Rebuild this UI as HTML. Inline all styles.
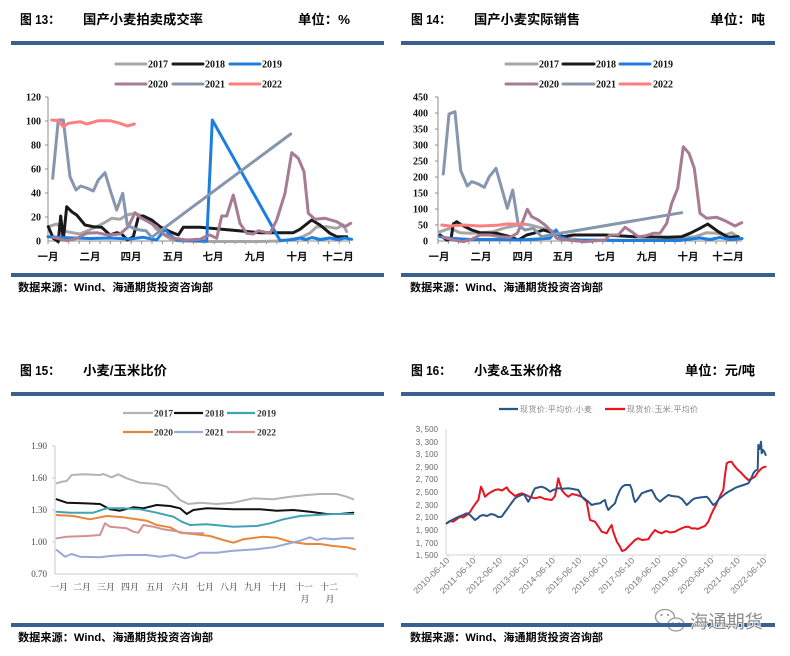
<!DOCTYPE html>
<html><head><meta charset="utf-8"><style>
html,body{margin:0;padding:0;background:#fff;}
svg{display:block;}
.t{font-family:"Liberation Sans","Noto Sans CJK SC",sans-serif;font-weight:bold;fill:#000;}
.lg{font-family:"Liberation Serif",serif;font-weight:bold;font-size:10px;fill:#111;}
.yl{font-family:"Liberation Serif",serif;font-weight:bold;font-size:10px;fill:#111;}
.xl{font-family:"Liberation Sans","Noto Sans CJK SC",sans-serif;font-weight:bold;font-size:10.5px;fill:#111;}
.s3{font-family:"Liberation Serif","Noto Serif CJK SC",serif;font-size:9px;fill:#333;}
.s4{font-family:"Liberation Sans","Noto Sans CJK SC",sans-serif;font-size:8px;fill:#666;}
polyline{fill:none;stroke-linejoin:round;stroke-linecap:round;}
</style></head><body>
<svg width="790" height="656" viewBox="0 0 790 656" xmlns="http://www.w3.org/2000/svg">
<rect width="790" height="656" fill="#fff"/>

<!-- ================= CHART 13 ================= -->
<text class="t" x="20" y="24" font-size="13" textLength="40" lengthAdjust="spacingAndGlyphs">图 13：</text>
<text class="t" x="83" y="24" font-size="13" textLength="120" lengthAdjust="spacingAndGlyphs">国产小麦拍卖成交率</text>
<text class="t" x="298" y="24" font-size="13" textLength="52" lengthAdjust="spacingAndGlyphs">单位：%</text>
<rect x="11" y="41" width="373" height="4" fill="#3a6090"/>
<g stroke-width="3" stroke-linecap="round">
<line x1="116" y1="64" x2="146" y2="64" stroke="#a6a6a6"/>
<line x1="173" y1="64" x2="203" y2="64" stroke="#1a1a1a"/>
<line x1="230" y1="64" x2="260" y2="64" stroke="#1e7ee0"/>
<line x1="116" y1="84" x2="146" y2="84" stroke="#a67b93"/>
<line x1="173" y1="84" x2="203" y2="84" stroke="#8596ad"/>
<line x1="230" y1="84" x2="260" y2="84" stroke="#ff7f80"/>
</g>
<text class="lg" x="148" y="67.5">2017</text>
<text class="lg" x="205" y="67.5">2018</text>
<text class="lg" x="262" y="67.5">2019</text>
<text class="lg" x="148" y="87.5">2020</text>
<text class="lg" x="205" y="87.5">2021</text>
<text class="lg" x="262" y="87.5">2022</text>
<g class="yl" text-anchor="end">
<text x="41" y="100.5">120</text><text x="41" y="124.5">100</text><text x="41" y="148.5">80</text>
<text x="41" y="172.5">60</text><text x="41" y="196.5">40</text><text x="41" y="220.5">20</text><text x="41" y="244.5">0</text>
</g>
<g stroke="#8c8c8c" stroke-width="1">
<line x1="48" y1="97" x2="48" y2="241"/>
<line x1="48" y1="241" x2="350" y2="241"/>
<line x1="45" y1="97" x2="48" y2="97"/><line x1="45" y1="121" x2="48" y2="121"/><line x1="45" y1="145" x2="48" y2="145"/>
<line x1="45" y1="169" x2="48" y2="169"/><line x1="45" y1="193" x2="48" y2="193"/><line x1="45" y1="217" x2="48" y2="217"/>
<path d="M48 241v3M58.4 241v3M68.8 241v3M79.2 241v3M89.6 241v3M100 241v3M110.4 241v3M120.8 241v3M131.2 241v3M141.6 241v3M152 241v3M162.4 241v3M172.8 241v3M183.2 241v3M193.6 241v3M204 241v3M214.4 241v3M224.8 241v3M235.2 241v3M245.6 241v3M256 241v3M266.4 241v3M276.8 241v3M287.2 241v3M297.6 241v3M308 241v3M318.4 241v3M328.8 241v3M339.2 241v3M349.6 241v3"/>
</g>
<g class="xl" text-anchor="middle">
<text x="48" y="260">一月</text><text x="90" y="260">二月</text><text x="131" y="260">四月</text><text x="173" y="260">五月</text>
<text x="213" y="260">七月</text><text x="255" y="260">九月</text><text x="297" y="260">十月</text><text x="338" y="260">十二月</text>
</g>
<g stroke-width="3">
<polyline stroke="#a6a6a6" points="48.3,226.7 56.7,224 66.7,231.7 80,234 93.3,228.3 103.3,223.3 111.7,218.3 120,219.3 126.7,215 135,213.3 143,216 150,220 155,228 160,232 166,236 172,240 180,241 200,241.5 260,241.5 280,241 300,238 310,233 316.7,226.7 326.7,226.7 336.7,228.3 343.3,225 346.7,231.7"/>
<polyline stroke="#1a1a1a" points="48.3,226.7 53.3,238.3 58.3,241.7 60.7,216 63.3,240 66.7,206.7 71.7,211.7 76.7,215 85,225 93.3,226.7 101.7,227.3 110,235 116.7,232.7 121.7,234 127.3,240 133.3,236.7 138.3,217.3 143.3,216 151.7,220 160,226.7 170,231.7 178.3,235 183.3,227.3 200,227.3 260,232.7 293.3,232.7 300,229.3 311.7,220 320,225 330,233.3 336.7,236.7 346.7,236.7"/>
<polyline stroke="#1e7ee0" points="48,236.7 66.7,237.7 90,238.5 110,238 130,239 143.3,237.3 156.7,240 165,229.3 170,235 176.7,240 206.7,241 212.3,120 280,240.5 290,240 300,238 306,239.5 312,237.5 320,239.5 330,238 338,239.5 345,238 351.7,239.3"/>
<polyline stroke="#a67b93" points="53.3,237.3 66.7,240.7 76.7,238.3 86.7,233.3 96.7,232.7 108.3,235 120,234 128.3,226.7 135,212.7 140,217.3 148.3,221.7 156.7,226.7 163.3,234 173.3,238.3 186.7,240 200,239.3 206.7,236 210,235 216.7,238.3 221.7,216 226.7,216 233.3,195 240,223.3 246.7,233.3 253.3,234 258.3,230.7 270,233.3 276.7,220 285,193.3 291.7,152.7 298.3,158.3 304,171.7 308.3,213.3 315,219.3 325,218.3 336.7,221.7 345,226.7 350.7,223.3"/>
<polyline stroke="#8596ad" points="52.7,178.3 58.3,120 63.3,120 70,176.7 76,190 80.7,186 86.7,188 93.3,191 98.3,180 105,172.7 110.7,191.7 116.7,210 122.7,193.3 127.3,225 133.3,228.3 140,230 146,230.7 151.7,237.3 290.7,134"/>
<polyline stroke="#ff7f80" points="51.7,120 58.3,120.7 63.3,126.7 68.3,123.3 80,121.7 86.7,124 98.3,120.7 110,120.7 120,123.3 127.3,126 134.3,124"/>
</g>
<rect x="11" y="273" width="373" height="4" fill="#3a6090"/>
<text class="t" x="18" y="291" font-size="11" textLength="195" lengthAdjust="spacingAndGlyphs">数据来源：Wind、海通期货投资咨询部</text>

<!-- ================= CHART 14 ================= -->
<text class="t" x="411" y="24" font-size="13" textLength="40" lengthAdjust="spacingAndGlyphs">图 14：</text>
<text class="t" x="474" y="24" font-size="13" textLength="106" lengthAdjust="spacingAndGlyphs">国产小麦实际销售</text>
<text class="t" x="710" y="24" font-size="13" textLength="55" lengthAdjust="spacingAndGlyphs">单位：吨</text>
<rect x="401" y="41" width="374" height="4" fill="#3a6090"/>
<g stroke-width="3" stroke-linecap="round">
<line x1="506" y1="64" x2="537" y2="64" stroke="#a6a6a6"/>
<line x1="563" y1="64" x2="594" y2="64" stroke="#1a1a1a"/>
<line x1="620" y1="64" x2="650" y2="64" stroke="#1e7ee0"/>
<line x1="506" y1="84" x2="537" y2="84" stroke="#a67b93"/>
<line x1="563" y1="84" x2="594" y2="84" stroke="#8596ad"/>
<line x1="620" y1="84" x2="650" y2="84" stroke="#ff7f80"/>
</g>
<text class="lg" x="539" y="67.5">2017</text>
<text class="lg" x="596" y="67.5">2018</text>
<text class="lg" x="653" y="67.5">2019</text>
<text class="lg" x="539" y="87.5">2020</text>
<text class="lg" x="596" y="87.5">2021</text>
<text class="lg" x="653" y="87.5">2022</text>
<g class="yl" text-anchor="end">
<text x="428" y="100.5">450</text><text x="428" y="116.5">400</text><text x="428" y="132.5">350</text><text x="428" y="148.5">300</text>
<text x="428" y="164.5">250</text><text x="428" y="180.5">200</text><text x="428" y="196.5">150</text><text x="428" y="212.5">100</text>
<text x="428" y="228.5">50</text><text x="428" y="244.5">0</text>
</g>
<g stroke="#8c8c8c" stroke-width="1">
<line x1="438" y1="97" x2="438" y2="241"/>
<line x1="438" y1="241" x2="742" y2="241"/>
<path d="M435 97h3M435 113h3M435 129h3M435 145h3M435 161h3M435 177h3M435 193h3M435 209h3M435 225h3"/>
<path d="M438 241v3M448.3 241v3M458.6 241v3M468.9 241v3M479.2 241v3M489.5 241v3M499.8 241v3M510.1 241v3M520.4 241v3M530.7 241v3M541 241v3M551.3 241v3M561.6 241v3M571.9 241v3M582.2 241v3M592.5 241v3M602.8 241v3M613.1 241v3M623.4 241v3M633.7 241v3M644 241v3M654.3 241v3M664.6 241v3M674.9 241v3M685.2 241v3M695.5 241v3M705.8 241v3M716.1 241v3M726.4 241v3M736.7 241v3"/>
</g>
<g class="xl" text-anchor="middle">
<text x="439" y="260">一月</text><text x="481" y="260">二月</text><text x="523" y="260">四月</text><text x="563" y="260">五月</text>
<text x="605" y="260">七月</text><text x="647" y="260">九月</text><text x="688" y="260">十月</text><text x="728" y="260">十二月</text>
</g>
<g stroke-width="3">
<polyline stroke="#a6a6a6" points="440,231.7 450,228.3 460,232.7 470,233.3 480,232.7 493.3,231.7 503.3,228.3 513.3,226 523.3,224 530,225 536.7,226.7 546.7,229.3 555,231.7 565,238 580,240 660,240.5 681.7,238.3 695,236.7 706.7,232.7 716.7,233.3 725,235 731.7,232.7 736.7,236"/>
<polyline stroke="#1a1a1a" points="440,235 446.7,240 451,239 453.3,224 456.7,221.7 461.7,225 471.7,230 480,232.7 496.7,233.3 510,236.7 518.3,240 526.7,235 533.3,233.3 543.3,230 553.3,232.7 563.3,236.7 573.3,235 590,235 605,235 635,236.7 668.3,237.3 681.7,236.7 690,233.3 700,228.3 707.7,224 718.3,231.7 728.3,237.3 738.3,236.7"/>
<polyline stroke="#1e7ee0" points="440,236.7 450,238.3 470,239.5 500,239.5 520,240 550,238.3 556,230 560,236.7 570,240 620,240.5 680,240.5 690,239 700,238 710,239.5 720,237.5 730,239.5 742,238.5"/>
<polyline stroke="#a67b93" points="443.3,237.3 453.3,240 463.3,241.7 471.7,239.3 480,235 490,235 500,236.7 510,237.3 517.3,233.3 523.3,220 527.3,209.3 531.7,216.7 538.3,220 545,225 551.7,231.7 556.7,238.3 566.7,240 585,241.7 605,240 610,235 618.3,235 625,227.3 631.7,231.7 638.3,236.7 645,236 653.3,233.3 660,233.3 666.7,223.3 671.7,203.3 677.7,188.3 683.3,146.7 689,153.3 694.3,168.3 700,213.3 706.7,218.3 716.7,217.3 725,220.7 735,226 741.7,222.7"/>
<polyline stroke="#8596ad" points="443.3,174 449,114 455,111.7 460.7,170.7 467.3,186 471.7,181.7 478.3,184 484.3,187.3 489.3,176.7 496,168.3 501.7,188.3 507.3,208.3 512.7,190 518.3,225 525,230 533.3,228.3 541.7,236.7 550,235 681.7,212.7"/>
<polyline stroke="#ff7f80" points="441.7,225 450,226 463.3,225 480,226 496.7,225.3 506.7,224 525,224.3"/>
</g>
<rect x="401" y="273" width="374" height="4" fill="#3a6090"/>
<text class="t" x="410" y="291" font-size="11" textLength="193" lengthAdjust="spacingAndGlyphs">数据来源：Wind、海通期货投资咨询部</text>

<!-- ================= CHART 15 ================= -->
<text class="t" x="20" y="375" font-size="13" textLength="40" lengthAdjust="spacingAndGlyphs">图 15：</text>
<text class="t" x="83" y="375" font-size="13" textLength="84" lengthAdjust="spacingAndGlyphs">小麦/玉米比价</text>
<rect x="11" y="392" width="373" height="4" fill="#3a6090"/>
<g stroke-width="2.2">
<line x1="123" y1="413" x2="153" y2="413" stroke="#b3b3b3"/>
<line x1="174" y1="413" x2="203" y2="413" stroke="#111"/>
<line x1="227" y1="413" x2="255" y2="413" stroke="#3ea3b5"/>
<line x1="123" y1="432" x2="153" y2="432" stroke="#e8873a"/>
<line x1="174" y1="432" x2="203" y2="432" stroke="#99a8d8"/>
<line x1="227" y1="432" x2="255" y2="432" stroke="#d49090"/>
</g>
<g class="lg" style="font-size:9.5px;fill:#333">
<text x="154" y="416.5">2017</text><text x="205" y="416.5">2018</text><text x="257" y="416.5">2019</text>
<text x="154" y="435.5">2020</text><text x="205" y="435.5">2021</text><text x="257" y="435.5">2022</text>
</g>
<g class="s3" text-anchor="end" style="font-size:9px;fill:#444">
<text x="47" y="449">1.90</text><text x="47" y="481">1.60</text><text x="47" y="513">1.30</text><text x="47" y="545">1.00</text><text x="47" y="577">0.70</text>
</g>
<g stroke="#c8c8c8" stroke-width="1">
<line x1="55" y1="446" x2="55" y2="574"/>
<line x1="55" y1="574" x2="357" y2="574"/>
<path d="M52 446h3M52 478h3M52 510h3M52 542h3M357 574v3"/>
</g>
<g class="s3" text-anchor="middle" style="font-size:9px;fill:#333">
<text x="59" y="590">一月</text><text x="82" y="590">二月</text><text x="106" y="590">三月</text><text x="130" y="590">四月</text>
<text x="155" y="590">五月</text><text x="180" y="590">六月</text><text x="205" y="590">七月</text><text x="229" y="590">八月</text>
<text x="253" y="590">九月</text><text x="278" y="590">十月</text><text x="304" y="590">十一</text><text x="329" y="590">十二</text>
<text x="305" y="602">月</text><text x="330" y="602">月</text>
</g>
<g stroke-width="2">
<polyline stroke="#b3b3b3" points="56.7,483.3 61.7,481.7 66.7,481 71.7,475 83.3,474.3 100,475 103.3,474 111.7,477.3 118.3,474.3 126.7,478.3 140,482.7 156.7,484 166.7,486.7 173.3,493.3 180,500 188.3,504 200,502.7 216.7,504 233.3,502.7 253.3,498.3 273.3,499.3 290,496.7 306.7,495 320,494 336.7,494 346.7,496.7 353.3,499.3"/>
<polyline stroke="#111" points="56.7,499.3 66.7,502.7 83.3,503.3 100,504 110,509.3 120,510.7 133.3,507.3 143.3,508.3 156.7,505 170,506 180,508.3 186.7,514 193.3,510 206.7,508.3 233.3,509.3 260,509.3 276.7,510.7 293.3,510 310,511.7 326.7,514 340,514 353.3,512.7"/>
<polyline stroke="#3ea3b5" points="56.7,511.7 70,512.7 93.3,512.7 106.7,508.3 123.3,508.3 140,509.3 156.7,512.7 173.3,516.7 181.7,521.7 190,525 206.7,524.3 233.3,526.7 256.7,526 270,523.3 283.3,519.3 300,516 316.7,515 333.3,514 353.3,514"/>
<polyline stroke="#e8873a" points="56.7,515 73.3,516 90,519.3 106.7,516 123.3,517.3 136.7,519.3 146.7,520.7 156.7,525 170,527.3 180,532.7 193.3,534 210,536 223.3,540 233.3,542.7 243.3,539.3 263.3,536.7 276.7,537.7 290,541.7 306.7,544 320,544 333.3,546 346.7,547.3 355,549.3"/>
<polyline stroke="#99a8d8" points="56.7,550 65,556.7 71.7,554 80,556.7 100,557.3 110,556 126.7,555 146.7,555 160,556.7 173.3,555 185,558.3 193.3,556 200,552.7 216.7,552.7 233.3,550.7 256.7,549.3 273.3,547.3 286.7,544 300,540.7 310,537.3 316.7,540 323.3,538.3 333.3,539.3 343.3,538.3 353.3,538.3"/>
<polyline stroke="#d49090" points="56.7,538.3 66.7,536.7 86.7,536 100,535 105,523.3 110,526.7 126.7,528.3 133.3,531.7 138.3,532.7 143.3,525 153.3,526.7 163.3,529.3 173.3,530.7 183.3,532.7 193.3,533.3 203.3,533.3"/>
</g>
<rect x="11" y="623" width="373" height="4" fill="#3a6090"/>
<text class="t" x="18" y="641" font-size="11" textLength="195" lengthAdjust="spacingAndGlyphs">数据来源：Wind、海通期货投资咨询部</text>

<!-- ================= CHART 16 ================= -->
<text class="t" x="411" y="375" font-size="13" textLength="40" lengthAdjust="spacingAndGlyphs">图 16：</text>
<text class="t" x="474" y="375" font-size="13" textLength="88" lengthAdjust="spacingAndGlyphs">小麦&amp;玉米价格</text>
<text class="t" x="685" y="375" font-size="13" textLength="70" lengthAdjust="spacingAndGlyphs">单位：元/吨</text>
<rect x="401" y="392" width="374" height="4" fill="#3a6090"/>
<line x1="499" y1="409" x2="518" y2="409" stroke="#2a5686" stroke-width="2.2"/>
<line x1="605" y1="409" x2="625" y2="409" stroke="#e8141e" stroke-width="2.2"/>
<text class="s4" x="520" y="412" textLength="72" lengthAdjust="spacing" style="fill:#888">现货价:平均价:小麦</text>
<text class="s4" x="627" y="412" textLength="71" lengthAdjust="spacing" style="fill:#888">现货价:玉米:平均价</text>
<g class="s4" text-anchor="end">
<text x="438" y="432">3, 500</text><text x="438" y="445">3, 300</text><text x="438" y="457">3, 100</text><text x="438" y="470">2, 900</text>
<text x="438" y="482">2, 700</text><text x="438" y="495">2, 500</text><text x="438" y="508">2, 300</text><text x="438" y="520">2, 100</text>
<text x="438" y="533">1, 900</text><text x="438" y="546">1, 700</text><text x="438" y="558">1, 500</text>
</g>
<g stroke="#d4d4d4" stroke-width="1">
<line x1="446" y1="429" x2="446" y2="555"/>
<line x1="446" y1="555" x2="766" y2="555"/>
<path d="M448 555v3M474.4 555v3M500.8 555v3M527.3 555v3M553.7 555v3M580.1 555v3M606.5 555v3M633 555v3M659.4 555v3M685.8 555v3M712.2 555v3M738.6 555v3M765 555v3"/>
</g>
<g class="s4" text-anchor="end" style="font-size:8.5px;fill:#777">
<text transform="translate(450,561) rotate(-45)" textLength="47" lengthAdjust="spacingAndGlyphs">2010-06-10</text>
<text transform="translate(476.4,561) rotate(-45)" textLength="47" lengthAdjust="spacingAndGlyphs">2011-06-10</text>
<text transform="translate(502.8,561) rotate(-45)" textLength="47" lengthAdjust="spacingAndGlyphs">2012-06-10</text>
<text transform="translate(529.3,561) rotate(-45)" textLength="47" lengthAdjust="spacingAndGlyphs">2013-06-10</text>
<text transform="translate(555.7,561) rotate(-45)" textLength="47" lengthAdjust="spacingAndGlyphs">2014-06-10</text>
<text transform="translate(582.1,561) rotate(-45)" textLength="47" lengthAdjust="spacingAndGlyphs">2015-06-10</text>
<text transform="translate(608.5,561) rotate(-45)" textLength="47" lengthAdjust="spacingAndGlyphs">2016-06-10</text>
<text transform="translate(635,561) rotate(-45)" textLength="47" lengthAdjust="spacingAndGlyphs">2017-06-10</text>
<text transform="translate(661.4,561) rotate(-45)" textLength="47" lengthAdjust="spacingAndGlyphs">2018-06-10</text>
<text transform="translate(687.8,561) rotate(-45)" textLength="47" lengthAdjust="spacingAndGlyphs">2019-06-10</text>
<text transform="translate(714.2,561) rotate(-45)" textLength="47" lengthAdjust="spacingAndGlyphs">2020-06-10</text>
<text transform="translate(740.6,561) rotate(-45)" textLength="47" lengthAdjust="spacingAndGlyphs">2021-06-10</text>
<text transform="translate(767,561) rotate(-45)" textLength="47" lengthAdjust="spacingAndGlyphs">2022-06-10</text>
</g>
<g stroke-width="2">
<polyline stroke="#e8141e" points="446.7,523.3 450,521 453.3,521.7 457,519 460,516.7 463,517.5 466.7,515 470,512 473.3,506.7 476,503 478.3,500 481,486.7 483,491 485,496.7 488,494 491.7,491.7 495,490 498.3,489.3 502,490.5 506.7,487.3 509,491 511.7,493.3 515,496 518,494.5 521.7,493.3 526,495 530,497 535,498.3 540,497 545,499 551.7,500 555,496 558.3,478.3 560,484 561.7,490 565,494 568.3,496.7 572,494 576.7,495 581.7,496.7 586.7,501.7 588.5,512 590,520 595,521.7 598,526 601.7,531.7 606.7,533.3 609,529 611.7,525 613,531 615,536.7 617,542 620,546.7 622,551 625,550 628,547 631.7,543.3 635,540 638.3,538.3 642,540 648.3,539.3 651,535 655,530 658,532 661.7,533.3 666,531 670,532.5 675,531.7 678,530 681.7,528.3 685,527 688.3,526.7 692,528.5 695,528.3 698,529 701.7,527.3 705,526 708.3,521.7 711,515 713.3,510 716,505 718.3,500 721,494 723.3,490 725,475 726.7,463.3 729,462 731.7,461.7 733,464 735,466.7 738,470 741.7,473.3 745,477 748.3,480 751,479 755,476.7 758,472 761.7,468.3 764,467 765.7,466.7"/>
<polyline stroke="#2a5686" points="446.7,523.3 452,520 458,517 463,515 466.7,513.3 470,515 473,518 475,520 478,518 480,516 483.3,515 487,516 491,514 495,515 498,517 501.7,516.7 505,512 508,508 510,505 513,501 515,498.3 518,496.5 521.7,495 524,494 526,498 528.3,501.7 531,497 533,492 535,488.3 538,487.5 541.7,486.7 545,488 548,490 550,491.7 553,490 558.3,488.3 563,488.8 568.3,488.3 573,489 578.3,490 580,493 581.7,496.7 585,499 588.3,501.7 591.7,505 595,504 600,503.3 603,501 605,500 606.5,506 608.3,510 611,507 615,503.3 617,497 620,490 622,487 625,485 630,485 632,490 633.3,496.7 635,502 637,500 641.7,493.3 645,492 648,491 651.7,490 654,494 656,498 660,501.7 663,499 668.3,495 672,496 678.3,496.7 682,499 686.7,505 689,503 692,500 695,498.3 700,497.5 706.7,496.7 709,499 711,502 713.3,505 716,503 719,499 721.7,496.7 725,494 728,492 731.7,490 735,488 738.3,486.7 742,485.5 745,484.5 748.3,483.3 751,479 753.3,473.3 755,471 757.7,469.3 758.3,445 759.5,449 761,441.7 761.7,453.3 763,450 764.3,451.7 765.7,455"/>
</g>
<g stroke="#9a9a9a" stroke-width="1.3" fill="#fff">
<ellipse cx="665" cy="617" rx="9.5" ry="7.5"/>
<ellipse cx="676" cy="624.5" rx="8" ry="6.5"/>
</g>
<g fill="#9a9a9a">
<circle cx="661.5" cy="615" r="1.1"/><circle cx="668" cy="615" r="1.1"/>
<circle cx="673" cy="623" r="0.9"/><circle cx="679" cy="623" r="0.9"/>
</g>
<rect x="401" y="623" width="374" height="4" fill="#3a6090"/>
<text x="690" y="628" font-size="18" textLength="73" lengthAdjust="spacingAndGlyphs" style="font-family:'Liberation Sans','Noto Sans CJK SC',sans-serif;fill:#8c8c8c;stroke:#fff;stroke-width:1.5px;paint-order:stroke;">海通期货</text>
<text class="t" x="410" y="641" font-size="11" textLength="193" lengthAdjust="spacingAndGlyphs">数据来源：Wind、海通期货投资咨询部</text>
</svg>
</body></html>
